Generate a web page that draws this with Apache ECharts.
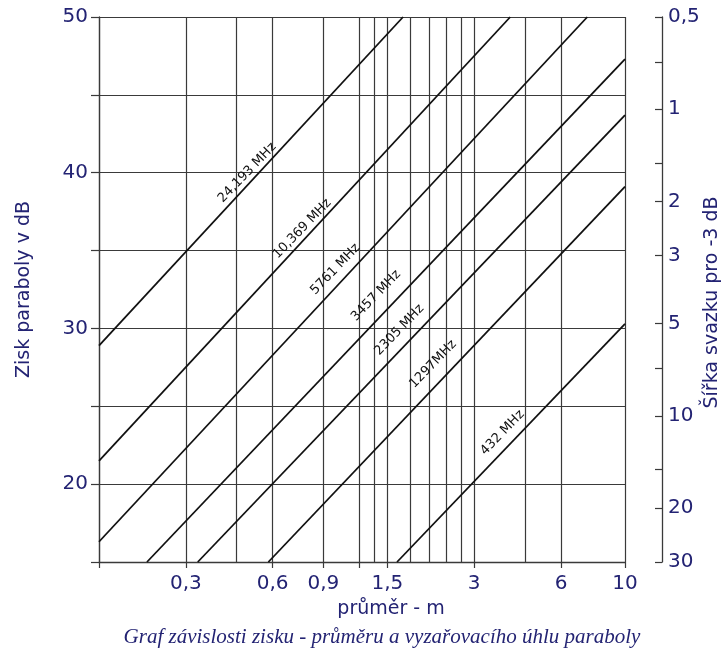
<!DOCTYPE html>
<html>
<head>
<meta charset="utf-8">
<script src="https://cdn.jsdelivr.net/npm/echarts@6/dist/echarts.min.js"></script>
<style>
html,body{margin:0;padding:0;background:#fff;}
#c{width:726px;height:650px;}
</style>
</head>
<body>
<div id="c"></div>
<script>
// ---- data ----
const freqNames   = ['24,193 MHz', '10,369 MHz', '5761 MHz', '3457 MHz', '2305 MHz', '1297MHz', '432 MHz'];
// each line: start point and end point (diameter m, gain dB)
const lineStartX  = [0.15, 0.15, 0.15, 0.22, 0.33, 0.58, 1.62];
const lineStartG  = [28.9, 21.5, 16.3, 15.0, 15.0, 15.0, 15.0];
const lineEndX    = [1.70, 4.0, 7.4, 10, 10, 10, 10];
const lineEndG    = [50.0, 50.0, 50.0, 47.3, 43.7, 39.1, 30.3];
// label anchor (diameter m, gain dB)
const labelX      = [0.49, 0.76, 0.99, 1.37, 1.65, 2.16, 3.76];
const labelG      = [40.0, 36.4, 33.8, 32.1, 29.9, 27.7, 23.3];

const gridX       = [0.15, 0.3, 0.45, 0.6, 0.9, 1.2, 1.35, 1.5, 1.8, 2.1, 2.4, 2.7, 3, 4.5, 6, 10];
const xTicks      = [0.15, 0.3, 0.6, 0.9, 1.2, 1.5, 3, 6, 10];
const xLabels     = [0.3, 0.6, 0.9, 1.5, 3, 6, 10];
const gainLabels  = [20, 30, 40, 50];
const beamTicks   = [0.5, 0.7, 1, 1.5, 2, 3, 5, 7, 10, 15, 20, 30];
const beamLabels  = [0.5, 1, 2, 3, 5, 10, 20, 30];

const NAVY = '#232373';
const GRID = '#3a3a3a';
const FONT = 'DejaVu Sans';
const fmt = v => String(+(+v).toPrecision(3)).replace('.', ',');

const chart = echarts.init(document.getElementById('c'), null, {renderer: 'canvas'});

const series = freqNames.map((n, i) => {
  const s = {
    name: n,
    type: 'line',
    xAxisIndex: 0, yAxisIndex: 0,
    data: [[lineStartX[i], lineStartG[i]], [lineEndX[i], lineEndG[i]]],
    symbol: 'none',
    clip: true,
    z: 5,
    lineStyle: {color: '#111', width: 1.8},
    markPoint: {
      symbol: 'circle', symbolSize: 1,
      itemStyle: {color: 'rgba(0,0,0,0)'},
      silent: true,
      animation: false,
      data: [{name: n, coord: [labelX[i], labelG[i]]}],
      label: {
        show: true, position: 'inside', rotate: 46,
        formatter: n, color: '#111', fontSize: 13, fontFamily: FONT
      }
    }
  };
  if (i === 0) {
    s.markLine = {
      silent: true, animation: false,
      symbol: ['none', 'none'],
      label: {show: false},
      lineStyle: {color: GRID, width: 1.2, type: 'solid'},
      emphasis: {disabled: true},
      z: 1,
      data: gridX.map(v => ({xAxis: v}))
    };
  }
  return s;
});

chart.setOption({
  animation: false,
  backgroundColor: '#fff',
  grid: {left: 99, right: 101, top: 17, bottom: 88, containLabel: false, outerBoundsMode: 'none'},
  xAxis: {
    type: 'log', logBase: 10, min: 0.15, max: 10,
    name: 'průměr - m', nameLocation: 'middle', nameGap: 38,
    nameTextStyle: {fontSize: 19, color: NAVY, fontFamily: FONT, padding: [0, 0, 0, 58]},
    axisLine: {show: true, lineStyle: {color: GRID, width: 1.3}},
    axisTick: {show: true, customValues: xTicks, length: 6, lineStyle: {color: GRID, width: 1.2}},
    axisLabel: {customValues: xLabels, formatter: fmt, fontSize: 20, color: NAVY, fontFamily: FONT, margin: 12},
    splitLine: {show: false}, minorTick: {show: false}
  },
  yAxis: [{
    type: 'value', min: 15, max: 50, interval: 5, position: 'left',
    name: 'Zisk paraboly v dB', nameLocation: 'middle', nameGap: 65, nameRotate: 90,
    nameTextStyle: {fontSize: 19, color: NAVY, fontFamily: FONT},
    axisLine: {show: true, lineStyle: {color: GRID, width: 1.3}},
    axisTick: {show: true, length: 8, lineStyle: {color: GRID, width: 1.2}},
    axisLabel: {formatter: v => gainLabels.includes(v) ? String(v) : '', fontSize: 20, color: NAVY, fontFamily: FONT, margin: 11},
    splitLine: {show: true, lineStyle: {color: GRID, width: 1.2}}
  }, {
    type: 'log', logBase: 10, min: 0.5, max: 30, inverse: true, position: 'right', offset: 37,
    name: 'Šířka svazku pro -3 dB', nameLocation: 'middle', nameGap: 41, nameRotate: 90,
    nameMoveOverlap: false,
    nameTextStyle: {fontSize: 19, color: NAVY, fontFamily: FONT, padding: [0, 26, 0, 0]},
    axisLine: {show: true, lineStyle: {color: GRID, width: 1.3}},
    axisTick: {show: true, customValues: beamTicks, inside: true, length: 7, lineStyle: {color: GRID, width: 1.2}},
    axisLabel: {customValues: beamLabels, formatter: fmt, fontSize: 20, color: NAVY, fontFamily: FONT, margin: 6},
    splitLine: {show: false}, minorTick: {show: false}
  }],
  graphic: [{
    type: 'text', x: 382, y: 637, silent: true,
    style: {
      text: 'Graf závislosti zisku - průměru a vyzařovacího úhlu paraboly',
      fill: NAVY, font: 'italic 21px "Liberation Serif", "Times New Roman", serif',
      textAlign: 'center', textVerticalAlign: 'middle'
    }
  }],
  series: series
});
</script>
</body>
</html>
